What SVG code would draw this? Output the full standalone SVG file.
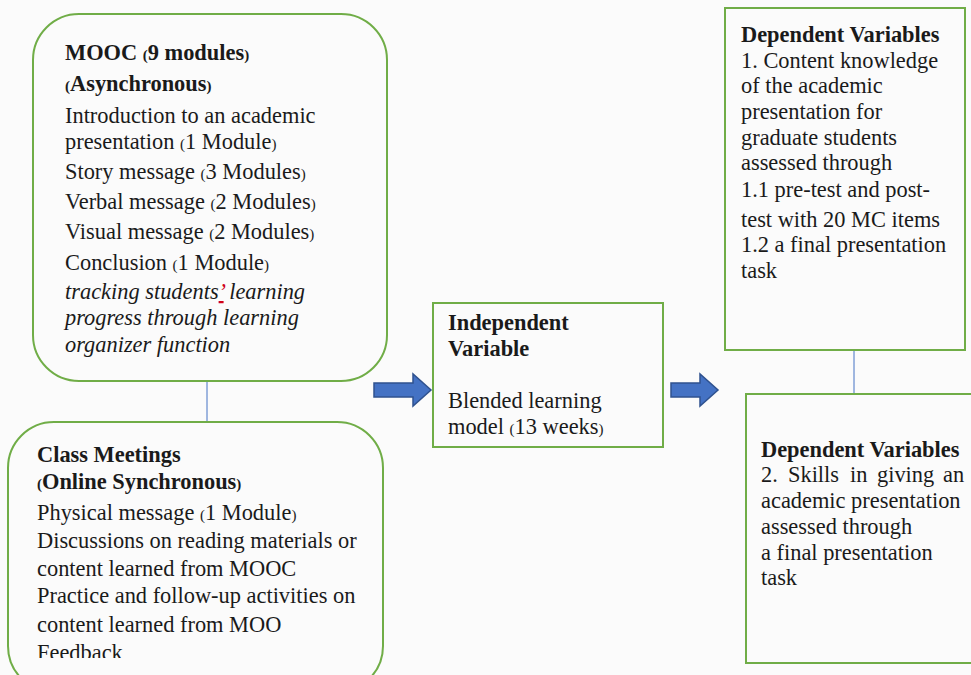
<svg xmlns="http://www.w3.org/2000/svg" width="971" height="675" viewBox="0 0 971 675">
<style>
.box{fill:none;stroke:#70AD47;stroke-width:2}
.t{font-family:"Liberation Serif","Times New Roman",serif;font-size:22.4px;fill:#1a1a1a}
.b{font-weight:bold}
.i{font-style:italic}
.p{font-size:15px}
.conn{stroke:#4472C4;stroke-width:1;fill:none}
.arr{fill:#4472C4;stroke:#2F528F;stroke-width:1.5}
</style>
<defs>
<clipPath id="clipClass"><rect x="0" y="420" width="400" height="238"/></clipPath>
</defs>
<rect width="971" height="675" fill="#fbfbfb"/>
<g id="connectors">
<line class="conn" x1="207" y1="381" x2="207" y2="422"/>
<line class="conn" x1="854" y1="350" x2="854" y2="394"/>
<path class="arr" d="M374,383 H413 V374 L431,390 L413,406 V397 H374 Z"/>
<path class="arr" d="M671,383 H700 V374 L718,390 L700,406 V397 H671 Z"/>
</g>
<g id="mooc">
<rect class="box" x="33" y="14" width="354" height="367" rx="46" ry="46"/>
<text class="t" x="65" y="60"><tspan class="b">MOOC </tspan><tspan class="b p">(</tspan><tspan class="b">9 modules</tspan><tspan class="b p">)</tspan></text>
<text class="t" x="65" y="91"><tspan class="b p">(</tspan><tspan class="b">Asynchronous</tspan><tspan class="b p">)</tspan></text>
<text class="t" x="65" y="123">Introduction to an academic</text>
<text class="t" x="65" y="149">presentation <tspan class="p">(</tspan>1 Module<tspan class="p">)</tspan></text>
<text class="t" x="65" y="179">Story message <tspan class="p">(</tspan>3 Modules<tspan class="p">)</tspan></text>
<text class="t" x="65" y="209">Verbal message <tspan class="p">(</tspan>2 Modules<tspan class="p">)</tspan></text>
<text class="t" x="65" y="239">Visual message <tspan class="p">(</tspan>2 Modules<tspan class="p">)</tspan></text>
<text class="t" x="65" y="270">Conclusion <tspan class="p">(</tspan>1 Module<tspan class="p">)</tspan></text>
<text class="t i" x="65" y="299">tracking students<tspan fill="#d0021b" text-decoration="underline">’</tspan> learning</text>
<text class="t i" x="65" y="325">progress through learning</text>
<text class="t i" x="65" y="352">organizer function</text>
</g>
<g id="class-meetings">
<rect class="box" x="8" y="422" width="375" height="270" rx="46" ry="46"/>
<g clip-path="url(#clipClass)">
<text class="t b" x="37" y="462">Class Meetings</text>
<text class="t" x="37" y="489"><tspan class="b p">(</tspan><tspan class="b">Online Synchronous</tspan><tspan class="b p">)</tspan></text>
<text class="t" x="37" y="520">Physical message <tspan class="p">(</tspan>1 Module<tspan class="p">)</tspan></text>
<text class="t" x="37" y="548">Discussions on reading materials or</text>
<text class="t" x="37" y="576">content learned from MOOC</text>
<text class="t" x="37" y="603">Practice and follow-up activities on</text>
<text class="t" x="37" y="632">content learned from MOO</text>
<text class="t" x="37" y="660">Feedback</text>
</g>
</g>
<g id="independent">
<rect class="box" x="433" y="303" width="230" height="144"/>
<text class="t b" x="448" y="330">Independent</text>
<text class="t b" x="448" y="356">Variable</text>
<text class="t" x="448" y="408">Blended learning</text>
<text class="t" x="448" y="434">model <tspan class="p">(</tspan>13 weeks<tspan class="p">)</tspan></text>
</g>
<g id="dependent-1">
<rect class="box" x="725" y="8" width="240" height="342"/>
<text class="t b" x="741" y="42">Dependent Variables</text>
<text class="t" x="741" y="68">1. Content knowledge</text>
<text class="t" x="741" y="93">of the academic</text>
<text class="t" x="741" y="119">presentation for</text>
<text class="t" x="741" y="145">graduate students</text>
<text class="t" x="741" y="170">assessed through</text>
<text class="t" x="741" y="197">1.1 pre-test and post-</text>
<text class="t" x="741" y="227">test with 20 MC items</text>
<text class="t" x="741" y="252">1.2 a final presentation</text>
<text class="t" x="741" y="278">task</text>
</g>
<g id="dependent-2">
<rect class="box" x="746" y="394" width="230" height="269"/>
<text class="t b" x="761" y="457">Dependent Variables</text>
<text class="t" y="482"><tspan x="761">2.</tspan><tspan x="788">Skills</tspan><tspan x="850">in</tspan><tspan x="877">giving</tspan><tspan x="943">an</tspan></text>
<text class="t" x="761" y="508">academic presentation</text>
<text class="t" x="761" y="534">assessed through</text>
<text class="t" x="761" y="560">a final presentation</text>
<text class="t" x="761" y="585">task</text>
</g>
</svg>
